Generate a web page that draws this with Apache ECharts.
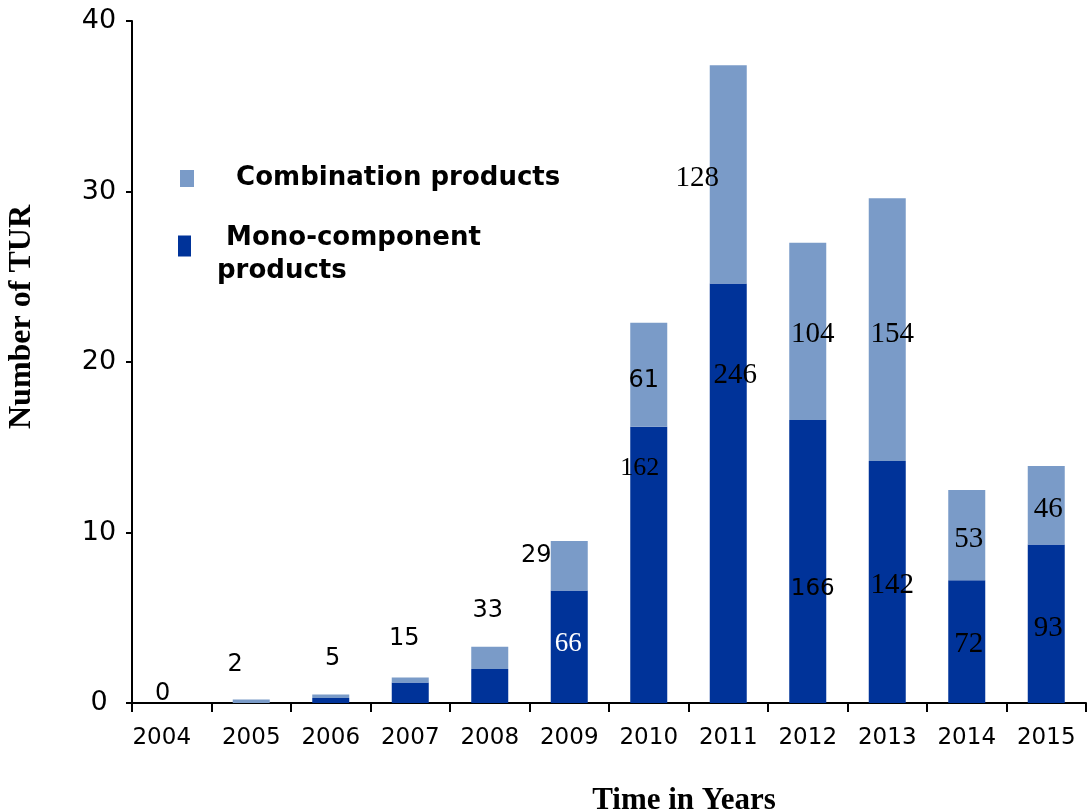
<!DOCTYPE html>
<html>
<head>
<meta charset="utf-8">
<script src="https://cdn.jsdelivr.net/npm/echarts@6/dist/echarts.min.js"></script>
<style>html,body{margin:0;padding:0;background:#fff}#c{width:1089px;height:811px}</style>
</head>
<body>
<div id="c"></div>
<script>
// ---- data ----
const years = ['2004','2005','2006','2007','2008','2009','2010','2011','2012','2013','2014','2015'];
const monoValues  = [0, 0, 0.3, 1.2, 2.0, 6.6, 16.2, 24.6, 16.6, 14.2, 7.2, 9.3];
const comboValues = [0, 0.2, 0.2, 0.3, 1.3, 2.9, 6.1, 12.8, 10.4, 15.4, 5.3, 4.6];
const totalLabels = ['0','2','5','15','33', null, null, null, null, null, null, null];
const monoLabels  = [null, null, null, null, null, '66','162','246','166','142','72','93'];
const comboLabels = [null, null, null, null, null, '29','61','128','104','154','53','46'];
const yTicks = [0, 10, 20, 30, 40];

// ---- styles (label placement relative to bar segments) ----
const SANS = 'DejaVu Sans';
const SERIF = 'Liberation Serif';
const totalOffsets = [[-9,8],[-16,-18],[2,-19],[-6,-22],[-2,-19]];
const monoStyle = {
  5: {offset:[-1,-3], font:SERIF, size:27, color:'#ffffff'},
  6: {offset:[-9,-97], font:SERIF, size:26, color:'#000'},
  7: {offset:[7,-118], font:SERIF, size:29, color:'#000'},
  8: {offset:[5,28], font:SANS, size:23, color:'#000'},
  9: {offset:[5,3], font:SERIF, size:29, color:'#000'},
  10: {offset:[2,3], font:SERIF, size:29, color:'#000'},
  11: {offset:[2,5], font:SERIF, size:29, color:'#000'}
};
const comboStyle = {
  5: {offset:[-33,-10], font:SANS, size:24, color:'#000'},
  6: {offset:[-5,6], font:SANS, size:24, color:'#000'},
  7: {offset:[-31,4], font:SERIF, size:29, color:'#000'},
  8: {offset:[5,3], font:SERIF, size:29, color:'#000'},
  9: {offset:[5,5], font:SERIF, size:29, color:'#000'},
  10: {offset:[2,4], font:SERIF, size:29, color:'#000'},
  11: {offset:[2,4], font:SERIF, size:29, color:'#000'}
};

const DARK = '#003399';
const LIGHT = '#7A9BC8';

const monoData = monoValues.map((v, i) => {
  const lab = monoLabels[i];
  if (lab == null) return {value: v, label: {show: false}};
  const s = monoStyle[i];
  return {value: v, label: {show: true, position: 'inside', formatter: lab, offset: s.offset,
    fontFamily: s.font, fontSize: s.size, color: s.color}};
});
const comboData = comboValues.map((v, i) => {
  if (totalLabels[i] != null) {
    return {value: v, label: {show: true, position: 'top', distance: 5, formatter: totalLabels[i],
      offset: totalOffsets[i], fontFamily: SANS, fontSize: 24, color: '#000'}};
  }
  const lab = comboLabels[i];
  if (lab == null) return {value: v, label: {show: false}};
  const s = comboStyle[i];
  return {value: v, label: {show: true, position: 'inside', formatter: lab, offset: s.offset,
    fontFamily: s.font, fontSize: s.size, color: s.color}};
});

const legendText = {fontFamily: SANS, fontWeight: 'bold', fontSize: 26, color: '#000', lineHeight: 33};
// icon: visible block in the upper part, tiny speck at bottom to extend the box
const monoIcon = 'path://M0,0L13,0L13,21L0,21Z M0,38.9L0.1,38.9L0.1,39L0,39Z';

const chart = echarts.init(document.getElementById('c'), null, {renderer: 'canvas'});
chart.setOption({
  animation: false,
  backgroundColor: '#fff',
  grid: {left: 132, right: 3, top: 21, bottom: 108, containLabel: false, outerBoundsMode: 'none'},
  legend: [
    {
      orient: 'vertical', left: 175, top: 157, itemWidth: 14, itemHeight: 17,
      data: [{name: 'Combination products', icon: 'rect'}],
      formatter: function () { return '  Combination products'; },
      textStyle: Object.assign({}, legendText, {padding: [0, 0, 0, 19]}),
      selectedMode: false
    },
    {
      orient: 'vertical', left: 173, top: 217, itemWidth: 13, itemHeight: 39,
      data: [{name: 'Mono-component products', icon: monoIcon}],
      formatter: function () { return ' Mono-component\nproducts'; },
      textStyle: Object.assign({}, legendText, {padding: [0, 0, 0, 21]}),
      selectedMode: false
    }
  ],
  xAxis: {
    type: 'category', data: years, boundaryGap: true,
    name: 'Time in Years', nameLocation: 'middle', nameGap: 82,
    nameTextStyle: {fontFamily: SERIF, fontWeight: 'bold', fontSize: 31, color: '#000', padding: [0,0,0,150]},
    axisLine: {lineStyle: {color: '#000', width: 2}},
    axisTick: {show: true, alignWithLabel: false, length: 9, lineStyle: {color: '#000', width: 2}},
    axisLabel: {
      interval: 0, margin: 24, fontFamily: SANS, fontSize: 23, color: '#000',
      formatter: function (v, i) { return i === 0 ? '{a|' + v + '}' : v; },
      rich: {a: {fontFamily: SANS, fontSize: 23, color: '#000', padding: [0, 20, 0, 0]}}
    }
  },
  yAxis: {
    type: 'value', min: yTicks[0], max: yTicks[yTicks.length - 1], interval: 10,
    name: 'Number of TUR', nameLocation: 'middle', nameGap: 94, nameRotate: 90,
    nameTextStyle: {fontFamily: SERIF, fontWeight: 'bold', fontSize: 32, color: '#000', padding: [0,0,0,90]},
    axisLine: {show: true, lineStyle: {color: '#000', width: 2}},
    axisTick: {show: true, length: 6, lineStyle: {color: '#000', width: 2}},
    splitLine: {show: false},
    axisLabel: {margin: 33, align: 'center', fontFamily: SANS, fontSize: 27, color: '#000'}
  },
  series: [
    {name: 'Mono-component products', type: 'bar', stack: 'tur', barWidth: 37,
     itemStyle: {color: DARK}, data: monoData},
    {name: 'Combination products', type: 'bar', stack: 'tur', barWidth: 37,
     itemStyle: {color: LIGHT}, data: comboData}
  ]
});
</script>
</body>
</html>
